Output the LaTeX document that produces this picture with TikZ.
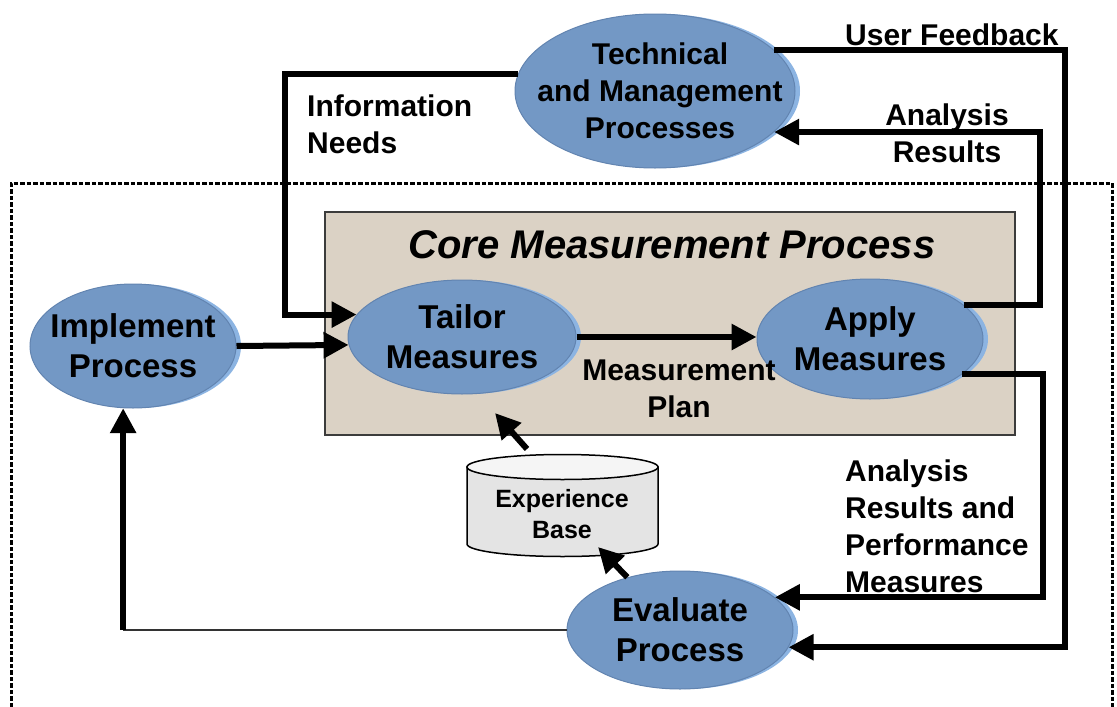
\documentclass[tikz,border=0pt]{standalone}
\usepackage{fontspec}
\setmainfont{Liberation Sans}
\usetikzlibrary{shapes.geometric,arrows.meta,shadows,calc}
\definecolor{ellfill}{RGB}{115,152,197}
\definecolor{ellrim}{RGB}{98,132,176}
\definecolor{ellhl}{RGB}{140,180,226}
\definecolor{corefill}{RGB}{219,210,197}
\definecolor{coreborder}{RGB}{60,60,60}
\definecolor{cylfill}{RGB}{228,228,228}
\definecolor{cyltop}{RGB}{245,245,245}
\begin{document}
\begin{tikzpicture}[x=1pt,y=-1pt,
  ell/.style={ellipse, fill=ellfill, draw=ellrim, line width=1pt, inner sep=0pt,
    general shadow={fill=ellhl, draw=none, shadow xshift=5pt, shadow yshift=0pt}},
  elltext/.style={align=center, inner sep=0pt, font=\fontsize{33}{40}\selectfont\bfseries},
  conn/.style={line width=6pt, -{Triangle[length=25pt,width=25pt]}},
  thinline/.style={line width=1.5pt, draw=black!80},
  lbl/.style={font=\fontsize{30}{37}\selectfont\bfseries, inner sep=0pt},
  dashbox/.style={line width=3pt, dash pattern=on 4.5pt off 2pt},
]
\clip (0,0) rectangle (1117,707);
\fill[white] (0,0) rectangle (1117,707);

% dashed enclosure
\draw[dashbox] (11,720) -- (11,183) -- (1112,183) -- (1112,720);

% core measurement process box
\node[draw=coreborder, fill=corefill, line width=1.5pt, minimum width=690pt, minimum height=223pt, inner sep=0pt] (core) at (670,323.5) {};
\node[font=\fontsize{40}{48}\selectfont\bfseries\itshape, inner sep=0pt] (coretitle) at (672,245) {Core Measurement Process};

% experience base cylinder
\path[fill=cylfill, draw=black, line width=1.5pt] (467,467) -- (467,544)
  arc[start angle=180, end angle=360, x radius=95.5pt, y radius=12.5pt] -- (658,467) -- cycle;
\draw[fill=cyltop, line width=1.5pt] (562.5,467) ellipse [x radius=95.5pt, y radius=12.5pt];
\node[font=\fontsize{25}{31}\selectfont\bfseries, align=center, inner sep=0pt] (eb) at (562,514) {Experience\\Base};
\coordinate (ebtop) at (527,449);
\coordinate (ebbot) at (598,547);
\coordinate (coretip) at (495,413);

% process ellipses
\node[ell, minimum width=280pt, minimum height=154pt] (tech) at (655,91) {};
\node[elltext, font=\fontsize{30}{37}\selectfont\bfseries] (techtxt) at (660,91) {Technical\\and Management\\Processes};
\node[ell, minimum width=206pt, minimum height=124pt] (impl) at (133,346) {};
\node[elltext] (impltxt) at (impl.center) {Implement\\Process};
\node[ell, minimum width=228pt, minimum height=114pt] (tl) at (462,337) {};
\node[elltext] (tltxt) at (tl.center) {Tailor\\Measures};
\node[ell, minimum width=226pt, minimum height=120pt] (ap) at (870,339) {};
\node[elltext] (aptxt) at (ap.center) {Apply\\Measures};
\node[ell, minimum width=226pt, minimum height=118pt] (ev) at (680,630) {};
\node[elltext] (evtxt) at (ev.center) {Evaluate\\Process};

% helper x positions
\coordinate (ufx) at (1065,0);
\coordinate (arx) at (1040,0);
\coordinate (pmx) at (1043,0);
\coordinate (inx) at (285,0);

% connectors
\draw[conn] (tech.19.08) -| (ufx |- ev.-9.5) -- (ev.-9.5);
\draw[conn] (ap.20.06) -| (arx |- tech.-19.7) -- (tech.-19.7);
\draw[conn] (ap.-21.7) -| (pmx |- ev.19.4) -- (ev.19.4);
\draw[conn] (tech.173.3) -| (inx |- tl.168.2) -- (tl.168.2);
\draw[conn] (impl.east) -- (tl.184.6);
\draw[conn] (tl.east) -- (ap.west |- tl.east);
\draw[thinline] (ev.west) -- (ev.west -| impl.-99.2);
\draw[conn] (ev.west -| impl.-99.2) -- (impl.-99.2);
\draw[conn] (ebtop) -- (coretip);
\draw[conn] (ev.135) -- (ebbot);

% labels
\node[lbl, anchor=west] (uf) at (845,35) {User Feedback};
\node[lbl, align=left, anchor=west] (in) at (307,124) {Information\\Needs};
\node[lbl, align=center] (ar) at (947,133) {Analysis\\Results};
\node[lbl, align=center] (mp) at (679,389) {Measurement\\Plan};
\node[lbl, align=left, anchor=west] (arp) at (845,526) {Analysis\\Results and\\Performance\\Measures};
\end{tikzpicture}
\end{document}
